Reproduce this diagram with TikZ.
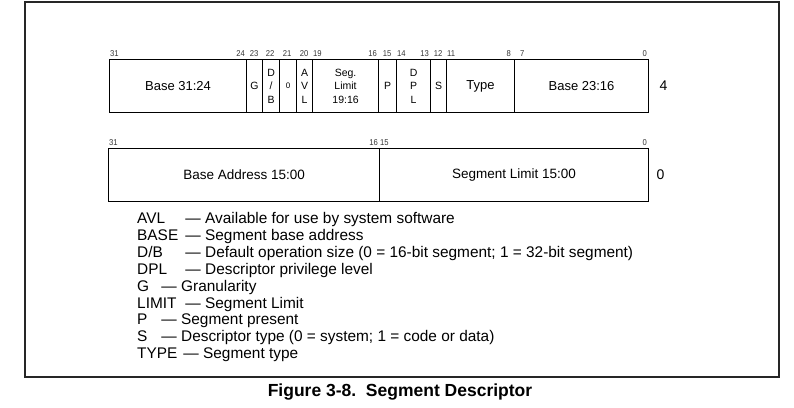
\documentclass[tikz,border=0pt]{standalone}
\usepackage{fontspec}
\setmainfont{Liberation Sans}
\newfontfamily\numfont[FakeStretch=0.9]{Liberation Sans}
\newcommand{\abbr}[2]{\makebox[#1pt][l]{#2}}
\begin{document}
\begin{tikzpicture}[x=1pt, y=-1pt,
    field/.style={draw, line width=1.1pt, anchor=north west, inner sep=0pt,
        minimum height=53pt, align=center},
    fbig/.style={font=\fontsize{13}{15}\selectfont},
    fsmall/.style={font=\fontsize{10.5}{13.5}\selectfont},
    bitno/.style={inner sep=1pt, font=\numfont\fontsize{8.5}{9}\selectfont, text=black!80},
    legend/.style={anchor=base west, inner sep=0pt, font=\fontsize{15.4}{17}\selectfont}]
    \useasboundingbox (0,0) rectangle (794,407);
    % Rahmen
    \draw[line width=1.6pt, black!85] (25,2) rectangle (779,377);
    % Doppelwort 4
    \foreach \x/\w/\n/\s/\t in {109/137/base3124/fbig/{Base 31:24}, 246/16/gbit/fsmall/G,
        262/17/dbbit/fsmall/{D\\/\\B}, 279/17/zbit/fsmall/{\fontsize{8}{8}\selectfont 0},
        296/16/avl/fsmall/{A\\V\\L}, 312/66/seglim/fsmall/{Seg.\\Limit\\19:16},
        378/18/pbit/fsmall/P, 396/34/dpl/fsmall/{D\\P\\L}, 430/16/sbit/fsmall/S,
        446/68/type/fbig/Type, 514/134/base2316/fbig/{Base 23:16}} {
        \node[field, \s, minimum width=\w pt] (\n) at (\x,59) {\t};
    }
    \foreach \x/\a/\t in {109/south west/31, 246/south east/24, 254/south/23,
        270/south/22, 287/south/21, 304/south/20, 312/south west/19,
        378/south east/16, 387/south/15, 396/south west/14, 430/south east/13,
        438/south/12, 446/south west/11, 512/south east/8, 519/south west/7,
        648/south east/0} {
        \node[bitno, anchor=\a] (t\t) at (\x,57.5) {\t};
    }
    \node[anchor=west, font=\fontsize{14}{15}\selectfont] (dw4) at (656,86) {4};
    % Doppelwort 0
    \node[field, font=\fontsize{13.5}{15}\selectfont, minimum width=271pt] (baseaddr)
        at (108,148) {Base Address 15:00};
    \node[field, font=\fontsize{13.5}{15}\selectfont, minimum width=269pt] (seglimit)
        at (379,148) {Segment Limit 15:00};
    \foreach \x/\a/\t in {108/south west/31, 379/south east/16,
        379/south west/15, 648/south east/0} {
        \node[bitno, anchor=\a] (u\t) at (\x,146.5) {\t};
    }
    \node[anchor=west, font=\fontsize{14}{15}\selectfont] (dw0) at (653,175) {0};
    % Legende
    \foreach \t [count=\i from 0] in {\abbr{44}{AVL} --- Available for use by system software,
        \abbr{44}{BASE} --- Segment base address,
        \abbr{44}{D/B} --- Default operation size (0 = 16-bit segment; 1 = 32-bit segment),
        \abbr{44}{DPL} --- Descriptor privilege level,
        \abbr{20}{G} --- Granularity,
        \abbr{44}{LIMIT} --- Segment Limit,
        \abbr{20}{P} --- Segment present,
        \abbr{20}{S} --- Descriptor type (0 = system; 1 = code or data),
        \abbr{42}{TYPE} --- Segment type} {
        \node[legend] (leg\i) at (137,{223.5+16.9*\i}) {\t};
    }
    % Bildunterschrift
    \node[font=\fontsize{17.5}{19}\bfseries] (caption) at (400,392)
        {Figure 3-8.\ \ Segment Descriptor};
\end{tikzpicture}
\end{document}
